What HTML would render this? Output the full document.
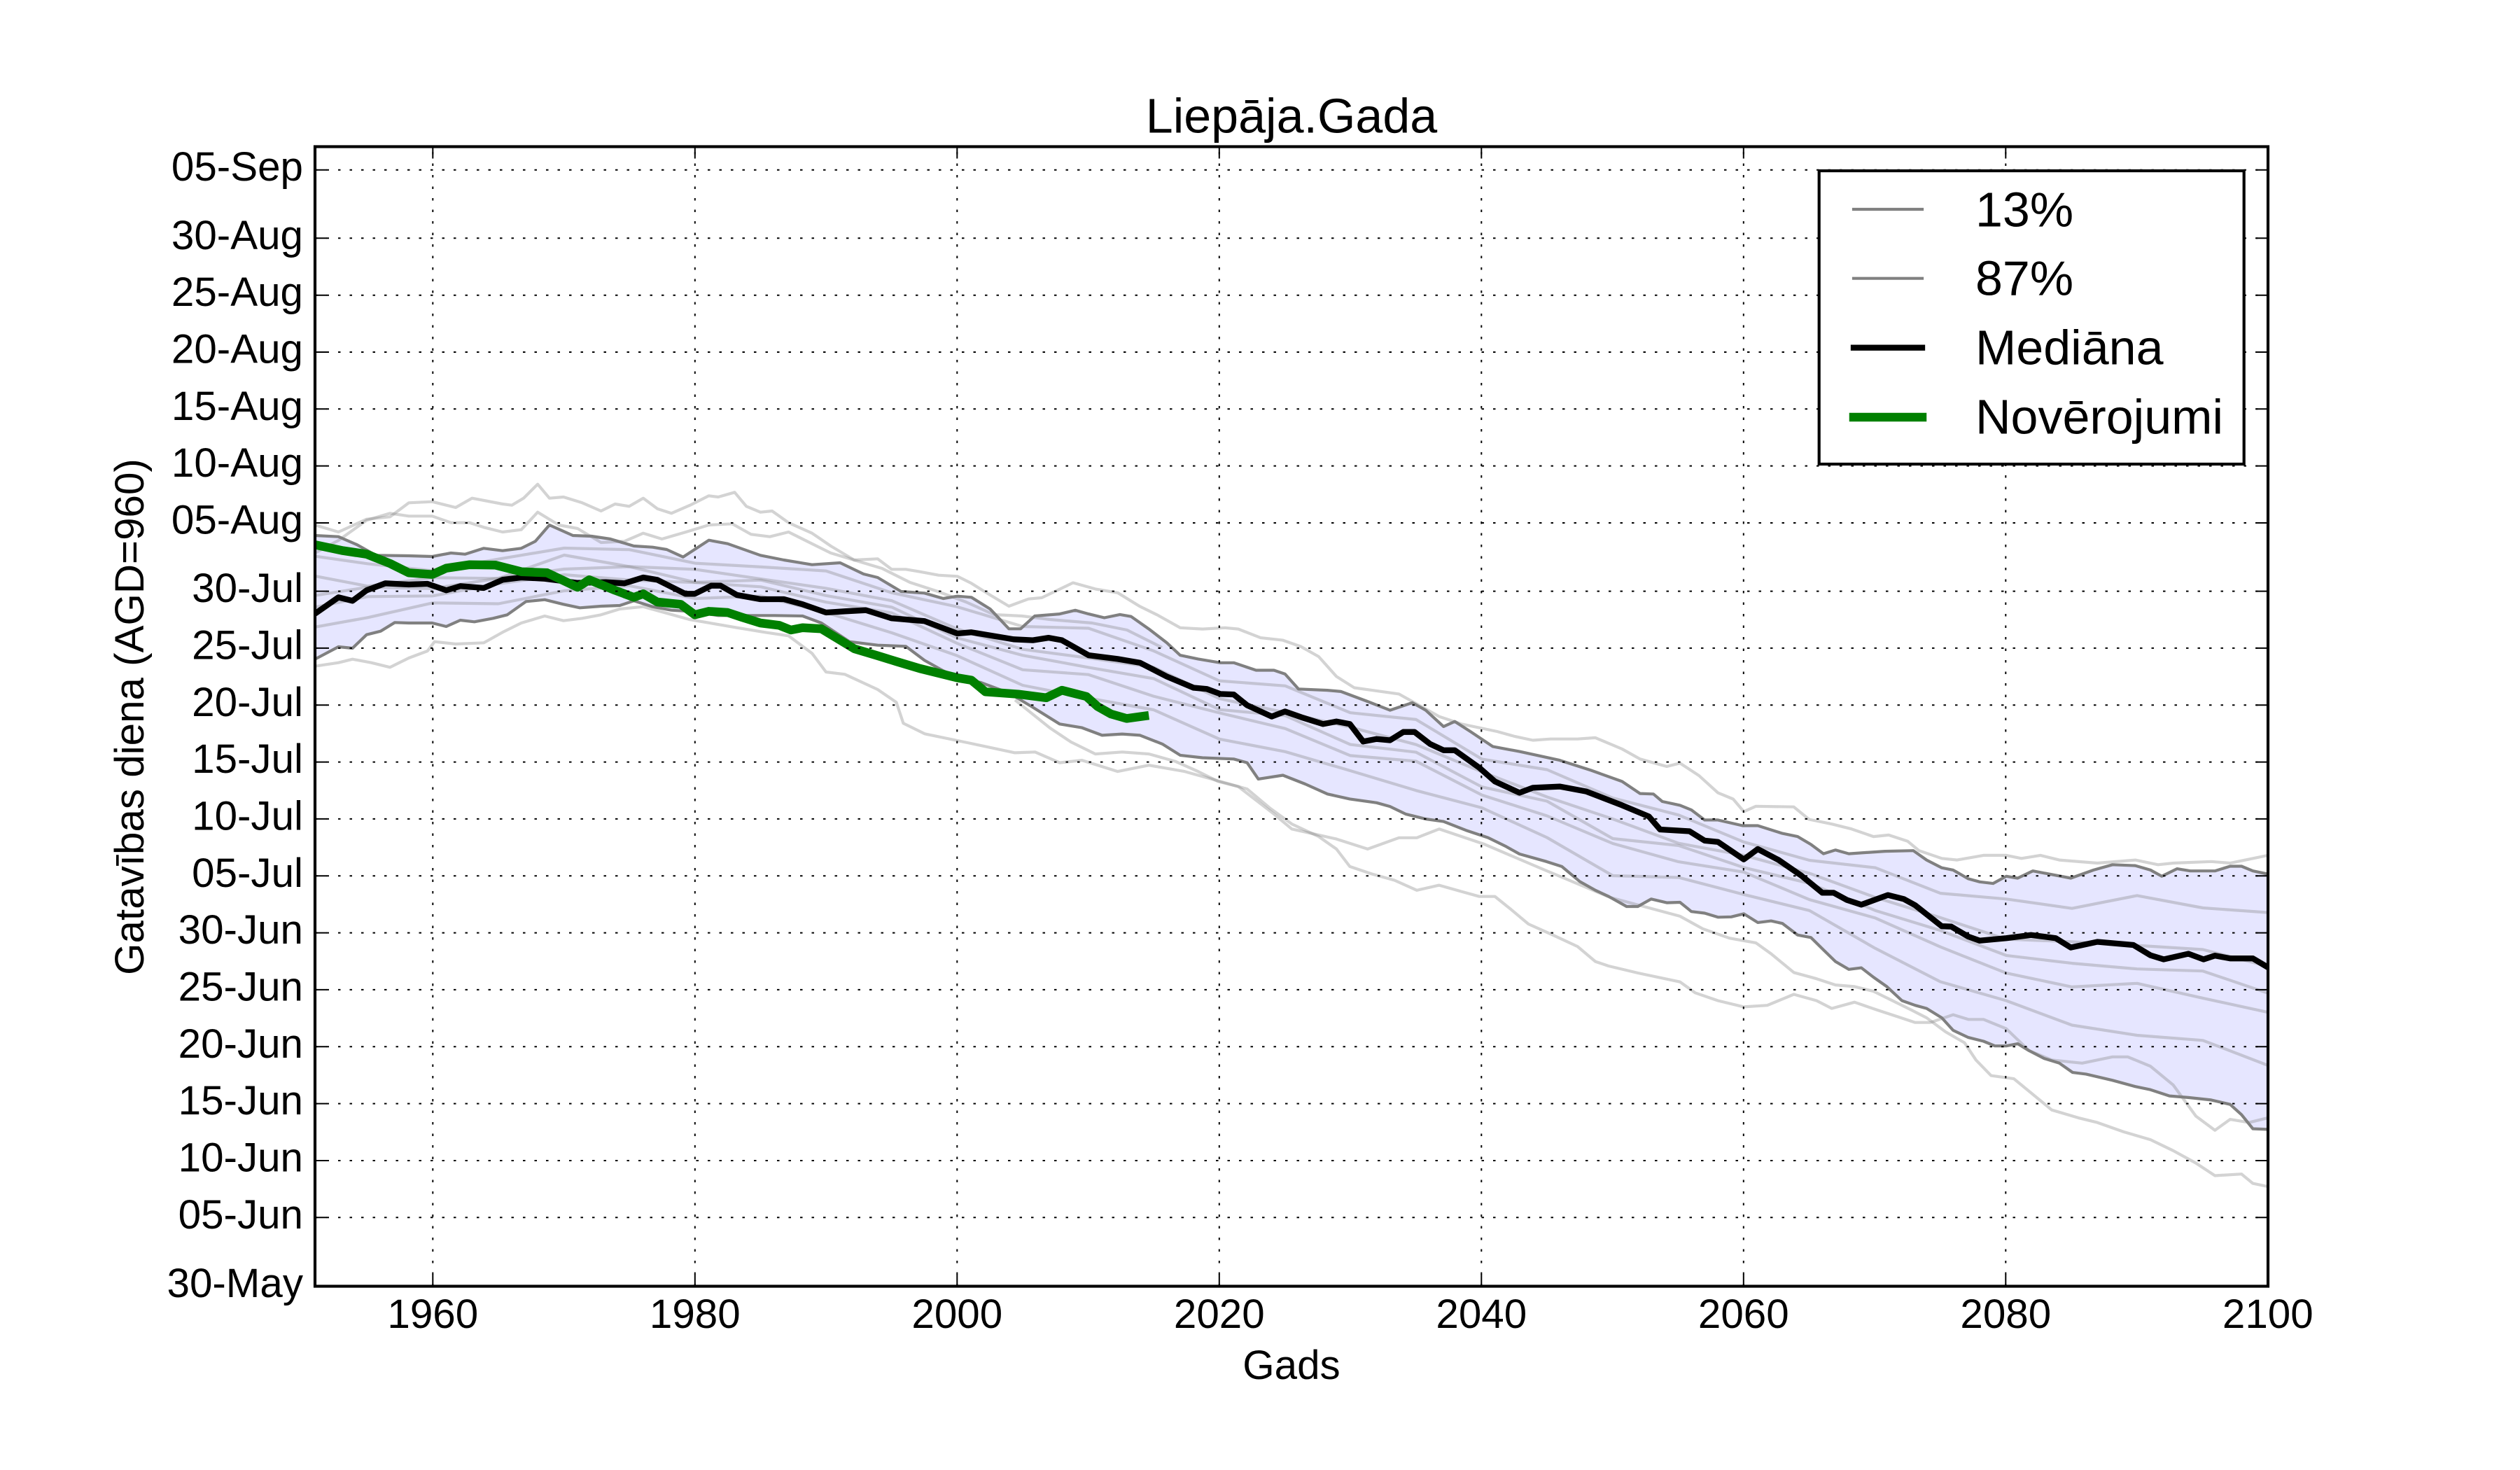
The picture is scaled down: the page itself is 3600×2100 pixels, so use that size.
<!DOCTYPE html>
<html>
<head>
<meta charset="utf-8">
<style>
html,body{margin:0;padding:0;background:#fff;}
svg{display:block;}
text{font-family:"Liberation Sans",Arial,sans-serif;fill:#000;}
</style>
</head>
<body>
<svg width="3600" height="2100" viewBox="0 0 3600 2100" xmlns="http://www.w3.org/2000/svg">
<rect x="0" y="0" width="3600" height="2100" fill="#fff"/>
<defs>
<clipPath id="c"><rect x="450" y="209.5" width="2790" height="1628"/></clipPath>
</defs>
<g clip-path="url(#c)">
<!-- band -->
<polygon fill="#e6e6ff" stroke="none" points="450,765 483.5,766.7 510.3,778.3 537.1,793.3 584,794 617.5,795 644.2,790 664.3,791.7 691.1,783.3 717.9,786.7 744.7,783.3 764.8,773.3 784.9,750 818.4,765 845.2,766 872,770 905.5,780 932.3,781.7 952.4,785 975.8,795.7 1012.6,771.7 1039.4,776.7 1086.3,793.3 1119.8,800 1160,806.7 1200.2,804 1233.6,820 1253.8,825 1287.3,845 1320.7,847.3 1347.5,855 1367.6,851.7 1387.7,853.3 1414.5,870 1441.3,898.3 1458,898.3 1478.1,880 1513.8,877.1 1536.1,871.8 1555.2,877.1 1577.6,882.5 1599.9,877.9 1615.8,880.7 1641.3,898.6 1666.8,918.2 1686,936.1 1711.5,941.4 1743.4,946.8 1762.5,946.8 1794.4,957.5 1819.9,957.5 1835.8,962.9 1855,984.3 1896.4,986.1 1915.6,987.9 1953.8,1002.1 1985.7,1014.6 2017.6,1003.9 2036.7,1014.6 2062.2,1037.9 2078.2,1030.7 2100.5,1045 2132.4,1066.4 2170.7,1073.6 2228.1,1086.1 2272.7,1100.4 2317.3,1116.4 2342.9,1133.6 2362,1134.3 2374.7,1145 2400,1150.4 2416.3,1157.1 2435.2,1171.4 2454.2,1171.4 2489.4,1179.5 2511.1,1179.5 2546.3,1190.6 2568,1195.1 2587,1206.3 2604.9,1219.6 2622.2,1214.3 2641.2,1219.6 2692.7,1216.1 2733.3,1215.2 2752.3,1228.6 2774,1239.7 2790.2,1242.9 2811.9,1255.4 2828.2,1259.8 2847.2,1262.1 2866.1,1251.8 2882.4,1254.5 2904.1,1244.2 2958.3,1254.5 2990.8,1242.9 3017.9,1235.3 3050.4,1236.6 3072.1,1242.9 3088.3,1251.8 3110,1241.1 3129,1244.2 3164.2,1244.2 3185.9,1237.5 3202.2,1237.5 3218.4,1244.2 3240,1248.7 3240,1613.4 3218.4,1612.5 3202.2,1592.4 3185.9,1577.7 3158.8,1571.4 3126.3,1567.9 3099.2,1565.6 3072.1,1556.7 3050.4,1552.2 3017.9,1543.3 2980,1534.4 2961,1532.1 2942,1518.8 2920.3,1512.1 2898.6,1500.9 2882.4,1491.1 2866.1,1494.2 2849.9,1494.2 2833.6,1487.5 2811.9,1482.1 2790.2,1471.9 2774,1454 2752.3,1440.6 2736,1436.2 2717.1,1429.5 2695.4,1409.4 2676.4,1396 2659.1,1382.6 2641.2,1384.8 2622.2,1373.7 2606,1358 2587,1339.3 2568,1335.7 2546.3,1319.2 2530.1,1315.6 2511.1,1317.9 2491.1,1305.4 2473.2,1309.8 2454.2,1310.3 2435.2,1304.5 2416.3,1302.2 2400,1289 2381.1,1289.6 2358.8,1284.3 2339.7,1295 2323.7,1295 2298.2,1280.7 2279.1,1271.8 2256.8,1259.3 2231.2,1237.9 2208.9,1230.7 2170.7,1220 2151.5,1209.3 2126,1196.8 2094.1,1186.1 2062.2,1173.6 2036.7,1170 2008,1162.9 1985.7,1152.1 1966.6,1146.8 1928.3,1141.4 1896.4,1134.3 1864.5,1120 1832.7,1107.5 1797.6,1112.9 1781.6,1089.6 1762.5,1084.3 1717.9,1082.5 1686,1078.9 1660.5,1062.9 1628.6,1050.4 1603.1,1048.6 1574.4,1050.4 1545.7,1039.6 1513.8,1034.3 1474.8,1010 1441.3,990 1401.1,975 1374.3,970 1347.5,958.3 1320.7,943.3 1294,923.3 1253.8,921.7 1213.6,916.7 1173.4,890 1146.6,880 1106.4,879.3 1066.2,879.3 1026,879.3 985.8,873.3 959.1,871.7 932.3,866.7 905.5,858.3 885.4,865 858.6,866 828.4,868.3 805,863.3 778.2,856.7 751.4,859.3 724.6,878.3 704.5,883.3 677.7,888.3 657.6,886 637.5,895 617.5,890 584,890 563.9,889.3 543.8,901.7 523.7,906.7 503.6,926 483.5,924 450,941.7"/>

<!-- light model lines -->
<g fill="none" stroke="#808080" stroke-opacity="0.35" stroke-width="4.2" stroke-linejoin="round">
<polyline points="450,750 483.5,760 523.7,741.7 557.2,738.3 584,718.3 617.5,716.7 651,725 674.4,711.7 717.9,720 731.3,721.7 748,711.7 768.1,691.7 784.9,711.7 805,710 831.8,718.3 858.6,730 878.7,720 898.8,723.3 918.9,711.7 939,726.7 959.1,733.3 985.8,721.7 1012.6,708.3 1026,710 1049.5,703.3 1066.2,723.3 1086.3,731.7 1103,730 1126.5,746.7 1160,761.7 1186.8,780 1220.3,800 1253.8,798.3 1273.8,813.3 1293.9,813.3 1314,816.7 1340.8,821.7 1367.6,823.3 1387.7,833.3 1414.5,850 1441.3,866 1469.1,855.7 1488.3,853.9 1532.9,832.5 1564.8,841.4 1596.7,846.8 1628.6,866.4 1654.1,878.9 1686,896.8 1717.9,898.6 1749.7,896.8 1768.9,898.6 1800.8,911.1 1832.7,914.6 1858.2,923.6 1883.7,937.9 1909.2,966.4 1934.7,982.5 1960.2,986.1 1998.5,991.4 2024,1005.7 2055.9,1023.6 2087.8,1034.3 2138.8,1045 2164.3,1052.1 2189.8,1057.5 2215.3,1055.7 2253.6,1055.7 2279.1,1053.9 2317.3,1070 2342.9,1084.3 2381.1,1095 2400,1090.2 2427.1,1108 2454.2,1132.6 2475.9,1141.5 2491.1,1159.4 2508.4,1151.8 2562.6,1152.7 2584.3,1170.5 2616.8,1177.2 2643.9,1183.9 2676.4,1195.1 2698.1,1192.9 2725.2,1201.8 2741.5,1215.2 2774,1226.3 2795.7,1228.6 2833.6,1221.9 2866.1,1221.9 2887.8,1226.3 2914.9,1221.9 2942,1228.6 2996.2,1233 3050.4,1228.6 3082.9,1235.3 3104.6,1233 3158.8,1230.8 3185.9,1233 3207.6,1228.6 3240,1221.9"/>
<polyline points="450,790 483.5,772 523.7,743.3 557.2,733.3 584,737.3 617.5,737.3 644.2,746.7 671,746.7 691.1,753.3 717.9,760 744.7,756.7 768.1,731.7 798.3,750 825.1,755 858.6,775 892,773.3 918.9,761.7 945.6,770 980,760 1012.6,750 1046.1,748.3 1072.9,763.3 1099.7,766.7 1126.5,760 1160,776.7 1186.8,790 1220,800 1260,812 1300,832 1340,845 1380,860 1420,878 1460,880 1500,885 1560,890 1610,900 1660,925"/>
<polyline points="450,951.7 483.5,946.7 503.6,941.7 530.4,946.7 557.2,953.3 584,940 610.7,930 620.8,916.7 650.9,920 691.1,918.3 717.9,903.3 744.7,890 778.2,880 805,886.7 831.8,883.3 858.6,878.3 885.4,870 918.9,866.7 985,885 1052.8,896.7 1093,903.3 1126.5,908.3 1160,933.3 1180,960 1206.9,963.3 1253.8,985 1280.5,1003.3 1290.5,1033.3 1321,1048.3 1387,1062 1450,1075.4 1478.7,1074.3 1513.8,1089.6 1545.7,1086.1 1596.7,1102.1 1641.3,1093.2 1692.3,1102.1 1743.4,1116.4 1781.6,1127.1 1813.5,1153.9 1845.4,1177.1 1883.7,1195 1909.2,1212.9 1928.3,1237.9 1960.2,1248.6 1992.1,1257.5 2024,1271.8 2055.9,1264.6 2087.8,1273.6 2113.3,1280.7 2135.6,1280.7 2157.9,1298.6 2183.4,1320 2215.3,1334.3 2253.6,1352.1 2279.1,1373.6 2298,1380 2340,1390 2400,1402.7 2421.7,1418.3 2454.2,1429.5 2491.1,1438.4 2524.7,1436.2 2562.6,1420.5 2595.1,1429.5 2616.8,1440.6 2649.3,1431.7 2681.8,1442.9 2708.9,1451.8 2736,1460.7 2757.7,1460.7 2790.2,1449.6 2811.9,1456.3 2833.6,1456.3 2866.1,1469.6 2898.6,1500.9 2931.2,1514.3 2974.5,1518.8 3017.9,1509.8 3039.6,1509.8 3072.1,1523.2 3104.6,1550 3137.1,1594.6 3164.2,1614.7 3185.9,1599.1 3212.9,1603.6 3240,1596.9"/>
<polyline points="1450,1000 1500,1040 1530,1060 1564.8,1077.1 1603.1,1074.3 1641.3,1077.1 1679.6,1087.9 1711.5,1102.1 1740.2,1116.4 1768.9,1123.6 1794.4,1143.2 1819.9,1162.9 1845.4,1184.3 1877.3,1191.4 1909.2,1198.6 1953.8,1212.9 1998.5,1196.8 2024,1196.8 2055.9,1184.3 2087.8,1195 2119.7,1205.7 2200,1240 2300,1282 2400,1308.9 2432.5,1326.8 2470.5,1340.2 2508.4,1346.9 2530.1,1362.5 2562.6,1389.3 2595.1,1398.2 2622.2,1407.1 2649.3,1409.4 2676.4,1416.1 2703.5,1429.5 2730.6,1442.9 2752.3,1454 2779.4,1474.1 2806.5,1489.7 2822.8,1514.3 2844.4,1536.6 2877,1541.1 2898.6,1558.9 2931.2,1585.7 2969.1,1596.9 2996.2,1603.6 3034.1,1617 3072.1,1628.1 3104.6,1643.8 3137.1,1661.6 3164.2,1679.5 3202.2,1677.2 3218.4,1690.6 3240,1695.1"/>
<polyline points="450,794.6 525,805.3 618,815.3 712,798.7 806,783 899,785.2 993,804.6 1087,809.9 1180,815.6 1274,846.8 1367,866.7 1461,895 1555,897.5 1648,929.8 1742,972.6 1836,979.8 1929,1018.2 2023,1027.9 2117,1084.4 2210,1099.5 2304,1140 2398,1164.3 2491,1202.8 2585,1229 2679,1239.6 2772,1276.1 2866,1284.3 2960,1297.7 3053,1279.4 3147,1297 3240,1303.6"/>
<polyline points="450,823 525,837.3 618,825.3 712,826.3 806,793 899,809.4 993,813.4 1087,827.1 1180,840.4 1274,858.2 1367,898.3 1461,927.6 1555,940 1648,953.2 1742,998 1836,1017.8 1929,1038.8 2023,1063.7 2117,1102.6 2210,1138.5 2304,1170 2398,1204.7 2491,1221.8 2585,1247.6 2679,1282 2772,1310.9 2866,1341.7 2960,1345.3 3053,1350.6 3147,1356.5 3240,1380.4"/>
<polyline points="450,867.4 525,852.3 618,851.3 712,833.9 806,821 899,828.6 993,832.2 1087,838.3 1180,860.2 1274,875.6 1367,918.9 1461,956.8 1555,963.7 1648,994.6 1742,1018.4 1836,1040.8 1929,1079.4 2023,1087.5 2117,1135.8 2210,1165.5 2304,1205 2398,1231.1 2491,1245.8 2585,1285.2 2679,1311.4 2772,1352.7 2866,1390.1 2960,1409.9 3053,1404.8 3147,1425.9 3240,1446.2"/>
<polyline points="450,895.8 525,882.3 618,861.3 712,862.5 806,844 899,836.8 993,855 1087,851.5 1180,875 1274,904 1367,936.5 1461,979 1555,997.3 1648,1014 1742,1055.8 1836,1073.8 1929,1101 2023,1129.3 2117,1154 2210,1196.5 2304,1251 2398,1253.5 2491,1277.8 2585,1300.8 2679,1354.8 2772,1402.5 2866,1429.5 2960,1464.5 3053,1479 3147,1486.3 3240,1522"/>
<polyline points="450,850.7 525,838.8 618,840.8 712,826.1 806,813 899,809.5 993,831.8 1087,828.7 1180,850.8 1274,867.4 1367,911.1 1461,936.2 1555,953.4 1648,969.4 1742,1013.7 1836,1022.3 1929,1063.6 2023,1074.6 2117,1124.2 2210,1144.5 2304,1198 2398,1207.9 2491,1239.3 2585,1261.9 2679,1300.7 2772,1329.3 2866,1364.9 2960,1376.1 3053,1384.2 3147,1387.2 3240,1418.8"/>
</g>

<!-- 13% / 87% -->
<g fill="none" stroke="#808080" stroke-width="4.2" stroke-linejoin="round">
<polyline points="450,765 483.5,766.7 510.3,778.3 537.1,793.3 584,794 617.5,795 644.2,790 664.3,791.7 691.1,783.3 717.9,786.7 744.7,783.3 764.8,773.3 784.9,750 818.4,765 845.2,766 872,770 905.5,780 932.3,781.7 952.4,785 975.8,795.7 1012.6,771.7 1039.4,776.7 1086.3,793.3 1119.8,800 1160,806.7 1200.2,804 1233.6,820 1253.8,825 1287.3,845 1320.7,847.3 1347.5,855 1367.6,851.7 1387.7,853.3 1414.5,870 1441.3,898.3 1458,898.3 1478.1,880 1513.8,877.1 1536.1,871.8 1555.2,877.1 1577.6,882.5 1599.9,877.9 1615.8,880.7 1641.3,898.6 1666.8,918.2 1686,936.1 1711.5,941.4 1743.4,946.8 1762.5,946.8 1794.4,957.5 1819.9,957.5 1835.8,962.9 1855,984.3 1896.4,986.1 1915.6,987.9 1953.8,1002.1 1985.7,1014.6 2017.6,1003.9 2036.7,1014.6 2062.2,1037.9 2078.2,1030.7 2100.5,1045 2132.4,1066.4 2170.7,1073.6 2228.1,1086.1 2272.7,1100.4 2317.3,1116.4 2342.9,1133.6 2362,1134.3 2374.7,1145 2400,1150.4 2416.3,1157.1 2435.2,1171.4 2454.2,1171.4 2489.4,1179.5 2511.1,1179.5 2546.3,1190.6 2568,1195.1 2587,1206.3 2604.9,1219.6 2622.2,1214.3 2641.2,1219.6 2692.7,1216.1 2733.3,1215.2 2752.3,1228.6 2774,1239.7 2790.2,1242.9 2811.9,1255.4 2828.2,1259.8 2847.2,1262.1 2866.1,1251.8 2882.4,1254.5 2904.1,1244.2 2958.3,1254.5 2990.8,1242.9 3017.9,1235.3 3050.4,1236.6 3072.1,1242.9 3088.3,1251.8 3110,1241.1 3129,1244.2 3164.2,1244.2 3185.9,1237.5 3202.2,1237.5 3218.4,1244.2 3240,1248.7"/>
<polyline points="450,941.7 483.5,924 503.6,926 523.7,906.7 543.8,901.7 563.9,889.3 584,890 617.5,890 637.5,895 657.6,886 677.7,888.3 704.5,883.3 724.6,878.3 751.4,859.3 778.2,856.7 805,863.3 828.4,868.3 858.6,866 885.4,865 905.5,858.3 932.3,866.7 959.1,871.7 985.8,873.3 1026,879.3 1066.2,879.3 1106.4,879.3 1146.6,880 1173.4,890 1213.6,916.7 1253.8,921.7 1294,923.3 1320.7,943.3 1347.5,958.3 1374.3,970 1401.1,975 1441.3,990 1474.8,1010 1513.8,1034.3 1545.7,1039.6 1574.4,1050.4 1603.1,1048.6 1628.6,1050.4 1660.5,1062.9 1686,1078.9 1717.9,1082.5 1762.5,1084.3 1781.6,1089.6 1797.6,1112.9 1832.7,1107.5 1864.5,1120 1896.4,1134.3 1928.3,1141.4 1966.6,1146.8 1985.7,1152.1 2008,1162.9 2036.7,1170 2062.2,1173.6 2094.1,1186.1 2126,1196.8 2151.5,1209.3 2170.7,1220 2208.9,1230.7 2231.2,1237.9 2256.8,1259.3 2279.1,1271.8 2298.2,1280.7 2323.7,1295 2339.7,1295 2358.8,1284.3 2381.1,1289.6 2400,1289 2416.3,1302.2 2435.2,1304.5 2454.2,1310.3 2473.2,1309.8 2491.1,1305.4 2511.1,1317.9 2530.1,1315.6 2546.3,1319.2 2568,1335.7 2587,1339.3 2606,1358 2622.2,1373.7 2641.2,1384.8 2659.1,1382.6 2676.4,1396 2695.4,1409.4 2717.1,1429.5 2736,1436.2 2752.3,1440.6 2774,1454 2790.2,1471.9 2811.9,1482.1 2833.6,1487.5 2849.9,1494.2 2866.1,1494.2 2882.4,1491.1 2898.6,1500.9 2920.3,1512.1 2942,1518.8 2961,1532.1 2980,1534.4 3017.9,1543.3 3050.4,1552.2 3072.1,1556.7 3099.2,1565.6 3126.3,1567.9 3158.8,1571.4 3185.9,1577.7 3202.2,1592.4 3218.4,1612.5 3240,1613.4"/>
</g>

<!-- median -->
<polyline fill="none" stroke="#000" stroke-width="8.3" stroke-linejoin="round" points="450,876.7 483.5,853.3 503.6,858.3 523.7,843.3 550.5,833.3 584,835 610.7,834 637.5,843.3 657.6,837.3 691,840 718,828.3 744.7,825 778.2,826.7 825,832.7 865.3,831.7 892,833.3 918.9,825 939,828.3 979,848.3 992.5,848.3 1016,836.7 1029.4,836.7 1052.8,850 1086.3,856 1119.8,856 1146.6,863.3 1180,875 1206.9,873.3 1237,871.7 1273.8,883.3 1320.7,887.3 1367.6,905 1387.7,903.3 1448,913.3 1475.5,914.6 1497.8,911.1 1517,914.6 1555.2,936.1 1596.7,941.4 1628.6,946.8 1666.8,966.4 1705.1,982.5 1724.2,984.3 1743.4,991.4 1762.5,992.1 1781.6,1007.5 1816.7,1023.6 1835.8,1016.4 1861.4,1025.4 1890,1034.3 1909.2,1030.7 1928.3,1034.3 1947.4,1059.3 1966.6,1055.7 1985.7,1057.5 2004.8,1045.7 2020.8,1045.7 2043.1,1062.9 2062.2,1071.8 2078.2,1071.8 2113.3,1096.8 2135.6,1116.4 2170.7,1132.5 2189.8,1125.4 2228.1,1123.6 2266.3,1130.7 2317.3,1150.4 2355.6,1166.4 2371.6,1185 2413.6,1187.5 2435.2,1200.9 2454.2,1202.7 2491.1,1227.7 2511.1,1212.9 2540.9,1228.6 2573.4,1250.9 2603.3,1275.4 2619.5,1275.4 2638.5,1285.7 2659.1,1292.4 2697,1278.6 2719.8,1284.4 2736,1293.3 2774,1323.2 2787.5,1323.7 2811.9,1338 2828.2,1343.8 2866.1,1340.2 2901.4,1335.7 2936.6,1340.2 2958.3,1353.6 2996.2,1345.5 3047.7,1350 3072.1,1364.7 3091,1370.5 3126.3,1362.5 3147.9,1370.5 3164.2,1365.2 3185.9,1369.2 3218.4,1369.2 3240,1382"/>

<!-- observations -->
<polyline fill="none" stroke="#008000" stroke-width="12.5" stroke-linejoin="round" stroke-linecap="square" points="450,778.3 490.2,786.7 523.7,791.7 557.2,805 584,818.3 617.5,820.7 637.5,811.7 671,806.7 707.9,807.3 744.7,816.7 781.5,818.3 825.1,839 841.8,828.3 878.7,843.3 905.5,853.3 918.9,848.3 939,860 972.4,863.3 992.5,878.3 1012.6,873.3 1039.4,875 1059.5,881.7 1086.3,890 1113.1,893.3 1129.8,900 1146.6,896.7 1173.4,898.3 1220.3,926.7 1253.8,936.7 1280.5,945 1314,955 1367.6,968.3 1387.7,971.7 1407.8,988.3 1454.7,991.7 1494.6,996.8 1517,986.1 1552,995 1568,1009.3 1587.1,1020 1609.4,1026.4 1635,1022.9"/>
</g>

<!-- grid -->
<g stroke="#000" stroke-width="2" stroke-dasharray="3.5 13" fill="none">
<path d="M618.3 1837.5V209.5M992.8 1837.5V209.5M1367.3 1837.5V209.5M1741.8 1837.5V209.5M2116.3 1837.5V209.5M2490.8 1837.5V209.5M2865.3 1837.5V209.5"/>
<path d="M450 1739.3H3240M450 1658H3240M450 1576.6H3240M450 1495.3H3240M450 1413.9H3240M450 1332.6H3240M450 1251.3H3240M450 1169.9H3240M450 1088.6H3240M450 1007.3H3240M450 925.9H3240M450 844.6H3240M450 747H3240M450 665.6H3240M450 584.3H3240M450 503H3240M450 421.7H3240M450 340.3H3240M450 242.7H3240"/>
</g>

<!-- ticks -->
<g stroke="#000" stroke-width="2" fill="none">
<path d="M618.3 1837.5v-17M992.8 1837.5v-17M1367.3 1837.5v-17M1741.8 1837.5v-17M2116.3 1837.5v-17M2490.8 1837.5v-17M2865.3 1837.5v-17M618.3 209.5v17M992.8 209.5v17M1367.3 209.5v17M1741.8 209.5v17M2116.3 209.5v17M2490.8 209.5v17M2865.3 209.5v17"/>
<path d="M450 1739.3h17M450 1658h17M450 1576.6h17M450 1495.3h17M450 1413.9h17M450 1332.6h17M450 1251.3h17M450 1169.9h17M450 1088.6h17M450 1007.3h17M450 925.9h17M450 844.6h17M450 747h17M450 665.6h17M450 584.3h17M450 503h17M450 421.7h17M450 340.3h17M450 242.7h17"/>
<path d="M3240 1739.3h-17M3240 1658h-17M3240 1576.6h-17M3240 1495.3h-17M3240 1413.9h-17M3240 1332.6h-17M3240 1251.3h-17M3240 1169.9h-17M3240 1088.6h-17M3240 1007.3h-17M3240 925.9h-17M3240 844.6h-17M3240 747h-17M3240 665.6h-17M3240 584.3h-17M3240 503h-17M3240 421.7h-17M3240 340.3h-17M3240 242.7h-17"/>
</g>

<!-- spines -->
<rect x="450" y="209.5" width="2790" height="1628" fill="none" stroke="#000" stroke-width="4.17"/>

<!-- y tick labels -->
<g font-size="58.33" text-anchor="end">
<text x="433" y="258.2">05-Sep</text>
<text x="433" y="355.8">30-Aug</text>
<text x="433" y="437.2">25-Aug</text>
<text x="433" y="518.5">20-Aug</text>
<text x="433" y="599.8">15-Aug</text>
<text x="433" y="681.1">10-Aug</text>
<text x="433" y="762.5">05-Aug</text>
<text x="433" y="860.1">30-Jul</text>
<text x="433" y="941.4">25-Jul</text>
<text x="433" y="1022.8">20-Jul</text>
<text x="433" y="1104.1">15-Jul</text>
<text x="433" y="1185.4">10-Jul</text>
<text x="433" y="1266.8">05-Jul</text>
<text x="433" y="1348.1">30-Jun</text>
<text x="433" y="1429.4">25-Jun</text>
<text x="433" y="1510.8">20-Jun</text>
<text x="433" y="1592.1">15-Jun</text>
<text x="433" y="1673.5">10-Jun</text>
<text x="433" y="1754.8">05-Jun</text>
<text x="433" y="1853">30-May</text>
</g>

<!-- x tick labels -->
<g font-size="58.33" text-anchor="middle">
<text x="618.3" y="1897">1960</text>
<text x="992.8" y="1897">1980</text>
<text x="1367.3" y="1897">2000</text>
<text x="1741.8" y="1897">2020</text>
<text x="2116.3" y="1897">2040</text>
<text x="2490.8" y="1897">2060</text>
<text x="2865.3" y="1897">2080</text>
<text x="3239.8" y="1897">2100</text>
</g>

<!-- axis labels and title -->
<text x="1845" y="1970" font-size="58.33" text-anchor="middle">Gads</text>
<text x="205" y="1024" font-size="58.33" text-anchor="middle" transform="rotate(-90 205 1024)">Gatavības diena (AGD=960)</text>
<text x="1845" y="189.5" font-size="70" text-anchor="middle">Liepāja.Gada</text>

<!-- legend -->
<rect x="2598.7" y="244" width="607" height="419" fill="#fff" stroke="#000" stroke-width="4.17"/>
<g fill="none" stroke-linecap="square">
<line x1="2648" y1="299" x2="2746" y2="299" stroke="#808080" stroke-width="4.2"/>
<line x1="2648" y1="397.7" x2="2746" y2="397.7" stroke="#808080" stroke-width="4.2"/>
<line x1="2648" y1="496.7" x2="2746" y2="496.7" stroke="#000" stroke-width="8.3"/>
<line x1="2648" y1="596" x2="2746" y2="596" stroke="#008000" stroke-width="12.5"/>
</g>
<g font-size="70">
<text x="2822" y="323.3">13%</text>
<text x="2822" y="421.7">87%</text>
<text x="2822" y="520.7">Mediāna</text>
<text x="2822" y="619.3">Novērojumi</text>
</g>
</svg>
</body>
</html>
